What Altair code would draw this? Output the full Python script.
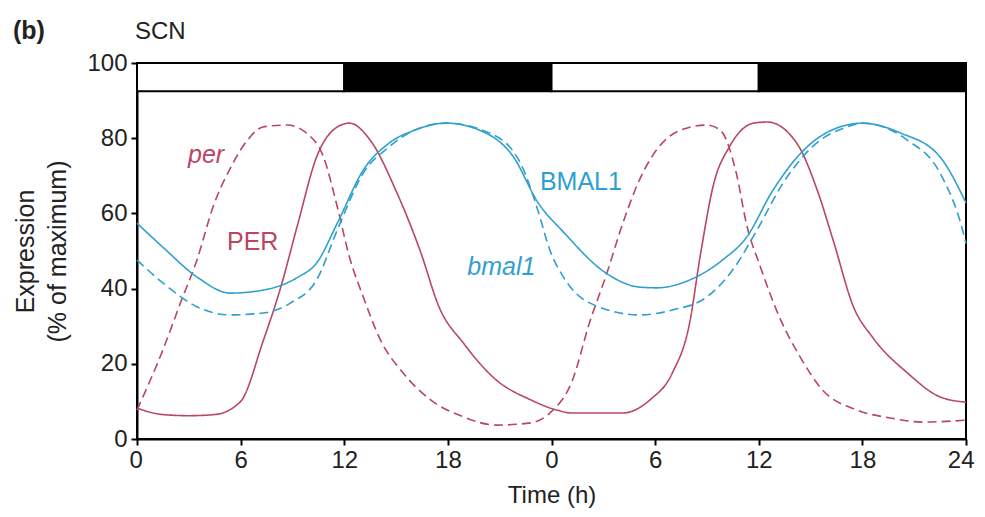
import altair as alt
import pandas as pd

# ---------------- data ----------------
series_names = ["PER", "per", "BMAL1", "bmal1"]
series_colors = ["#b8475f", "#b8475f", "#2ea0d0", "#2ea0d0"]

# PER protein (solid red)
per_prot_h = [0, 1.5, 3, 4.5, 6, 7.3, 8.3, 9.3, 10.4, 11.6, 12.3, 13.5, 15, 16.4, 17.5,
              18.9, 20.8, 22.8, 24.3, 25.2, 28.1, 29.7, 31, 32, 32.6, 33.4, 34.3, 35.7,
              36.5, 38.2, 39.4, 40.3, 41.5, 42.6, 44.6, 46.5, 48]
per_prot_v = [8.2, 6.5, 6.2, 6.5, 10, 26, 40, 57, 75, 83, 84, 79.5, 66, 50, 35,
              25.5, 15.7, 10.4, 7.7, 6.9, 6.9, 10.4, 17.6, 30.9, 48.4, 68, 77.7, 84,
              84.3, 78.7, 66, 53, 35, 27, 17.6, 11.2, 9.8]

# per mRNA (dashed red)
per_mrna_h = [0, 1.5, 2.5, 3.5, 4.4, 5.4, 6.4, 7.3, 8.7, 9.8, 10.8, 11.6, 12.3, 13.1,
              14.1, 15.4, 17, 18.9, 20.8, 22.8, 23.9, 25.2, 26.2, 27.2, 28.1, 29.1,
              30.1, 31.4, 33, 33.8, 34.7, 35.3, 36.1, 37.2, 38.4, 39.7, 41.7, 43.6,
              45.5, 48]
per_mrna_v = [7.7, 23.7, 36, 48, 61.7, 72, 79.5, 83, 83.5, 81.4, 75, 61.7, 48.4, 37.8,
              26.3, 17.6, 10.4, 5.9, 3.7, 4.3, 6.9, 15.5, 30.9, 44, 57, 69,
              77, 82, 83.5, 82, 70.7, 57, 45.7, 32.4, 21.8, 13, 7.7, 5.6,
              4.5, 5]

# BMAL1 protein (solid blue)
bmal_prot_h = [0, 1.5, 3.5, 5.4, 7.3, 9.3, 10.4, 11.6, 13.1, 14.6, 16, 17.9, 19.9,
               21.8, 23.2, 24.7, 27.2, 29.1, 30.1, 32, 33.9, 35.3, 36.8, 38.8, 40.7,
               42, 44.2, 46.5, 48]
bmal_prot_v = [57.4, 51, 43, 38.8, 39.6, 43, 46.8, 57.4, 71.5, 78.7, 82, 84, 82,
               75, 63, 55, 44, 40.4, 40.2, 42.3, 47.6, 53.7, 66, 77.7, 83,
               84, 81.4, 75, 62.8]

# bmal1 mRNA (dashed blue)
bmal_mrna_h = [0, 1.5, 3.5, 5.4, 7.3, 8.9, 10.4, 11.6, 13.1, 14.6, 16, 17.9, 20.4,
               22.2, 23.2, 23.9, 24.7, 26.2, 29.1, 31, 33, 34.5, 35.9, 37.4, 39.1,
               41.1, 42, 44.6, 46.5, 47.8, 48]
bmal_mrna_v = [47.6, 41.5, 35.1, 33, 33.5, 36.2, 42.3, 55.6, 70.7, 77.7, 82, 84, 81.4,
               73.4, 61, 50.3, 43, 36.2, 33, 34.3, 37.8, 45, 55.6, 68, 77.7,
               83, 84, 79.5, 70.7, 55.6, 52]

# light / dark bar
bar_start = [0, 12, 24, 36]
bar_end = [12, 24, 36, 48]
bar_fill = ["white", "black", "white", "black"]

# curve labels
label_text = ["per", "PER", "BMAL1", "bmal1"]
label_series = ["per", "PER", "BMAL1", "bmal1"]
label_h = [4.0, 6.7, 25.7, 21.1]
label_v = [75.5, 52.4, 68.4, 45.7]
label_italic = [True, False, False, True]

x_tick_values = [0, 6, 12, 18, 24, 30, 36, 42, 48]
x_tick_labels = ["0", "6", "12", "18", "0", "6", "12", "18", "24"]
y_tick_values = [0, 20, 40, 60, 80, 100]

# ---------------- tables ----------------
rows = []
for name, hs, vs in [("PER", per_prot_h, per_prot_v), ("per", per_mrna_h, per_mrna_v),
                     ("BMAL1", bmal_prot_h, bmal_prot_v), ("bmal1", bmal_mrna_h, bmal_mrna_v)]:
    for h, v in zip(hs, vs):
        rows.append({"series": name, "h": h, "v": v})
df = pd.DataFrame(rows)

bars = pd.DataFrame({"start": bar_start, "end": bar_end, "fill": bar_fill})
labels = pd.DataFrame({"text": label_text, "series": label_series, "h": label_h,
                       "v": label_v, "italic": label_italic})

FONT = "Liberation Sans"
TXT = "#222222"

x_scale = alt.Scale(domain=[0, 48], nice=False, zero=False)
y_scale = alt.Scale(domain=[0, 100], nice=False)
color_scale = alt.Scale(domain=series_names, range=series_colors)
dash_scale = alt.Scale(domain=series_names, range=[[1, 0], [9, 5], [1, 0], [9, 5]])

label_expr = "[" + ",".join("'%s'" % s for s in x_tick_labels) + "][round(datum.value / 6)]"

x_axis = alt.Axis(values=x_tick_values, labelExpr=label_expr, title="Time (h)",
                  grid=False, tickSize=6, tickWidth=2, domainWidth=2, domainColor="black",
                  tickColor="black", labelFontSize=24, titleFontSize=24,
                  titleFontWeight="normal", labelPadding=3, titleY=56,
                  titleBaseline="middle", labelFlush=True, labelFlushOffset=8)
y_axis = alt.Axis(values=y_tick_values, title=["Expression", "(% of maximum)"],
                  grid=False, tickSize=6, tickWidth=2, domainWidth=2, domainColor="black",
                  tickColor="black", labelFontSize=24, titleFontSize=25,
                  titleFontWeight="normal", labelPadding=4, titleX=-112, titleY=188,
                  titleAngle=270, titleAlign="center", titleBaseline="middle",
                  titleLineHeight=32, labelFlush=False)

lines = alt.Chart(df).mark_line(strokeWidth=1.6, interpolate="monotone").encode(
    x=alt.X("h:Q", scale=x_scale, axis=x_axis),
    y=alt.Y("v:Q", scale=y_scale, axis=y_axis),
    color=alt.Color("series:N", scale=color_scale, legend=None),
    strokeDash=alt.StrokeDash("series:N", scale=dash_scale, legend=None),
    detail="series:N",
)

bar = alt.Chart(bars).mark_rect(stroke="black", strokeWidth=2).encode(
    x=alt.X("start:Q", scale=x_scale),
    x2="end:Q",
    y=alt.Y(datum=92.5, scale=y_scale),
    y2=alt.Y2(datum=100),
    fill=alt.Fill("fill:N", scale=None),
)

text_up = alt.Chart(labels).transform_filter("!datum.italic").mark_text(
    font=FONT, fontSize=25, align="center", baseline="middle").encode(
    x=alt.X("h:Q", scale=x_scale), y=alt.Y("v:Q", scale=y_scale), text="text:N",
    color=alt.Color("series:N", scale=color_scale, legend=None))
text_it = alt.Chart(labels).transform_filter("datum.italic").mark_text(
    font=FONT, fontSize=25, fontStyle="italic", align="center", baseline="middle").encode(
    x=alt.X("h:Q", scale=x_scale), y=alt.Y("v:Q", scale=y_scale), text="text:N",
    color=alt.Color("series:N", scale=color_scale, legend=None))

panel_letter = alt.Chart(pd.DataFrame({"t": ["(b)"]})).mark_text(
    font=FONT, fontSize=25, fontWeight="bold", align="left", baseline="middle",
    color=TXT).encode(x=alt.value(-124), y=alt.value(-32), text="t:N")
panel_title = alt.Chart(pd.DataFrame({"t": ["SCN"]})).mark_text(
    font=FONT, fontSize=24, align="left", baseline="middle",
    color=TXT).encode(x=alt.value(-2), y=alt.value(-31), text="t:N")

chart = alt.layer(lines, bar, text_up, text_it, panel_letter, panel_title).properties(
    width=829, height=376,
    autosize=alt.AutoSizeParams(type="none"),
    padding={"left": 129, "top": 55, "right": 11, "bottom": 70},
    background="white",
).configure_view(stroke="black", strokeWidth=2).configure_axis(
    labelFont=FONT, titleFont=FONT, labelColor=TXT, titleColor=TXT)

chart.save("out.html", embed_options={"renderer": "svg", "actions": False})
